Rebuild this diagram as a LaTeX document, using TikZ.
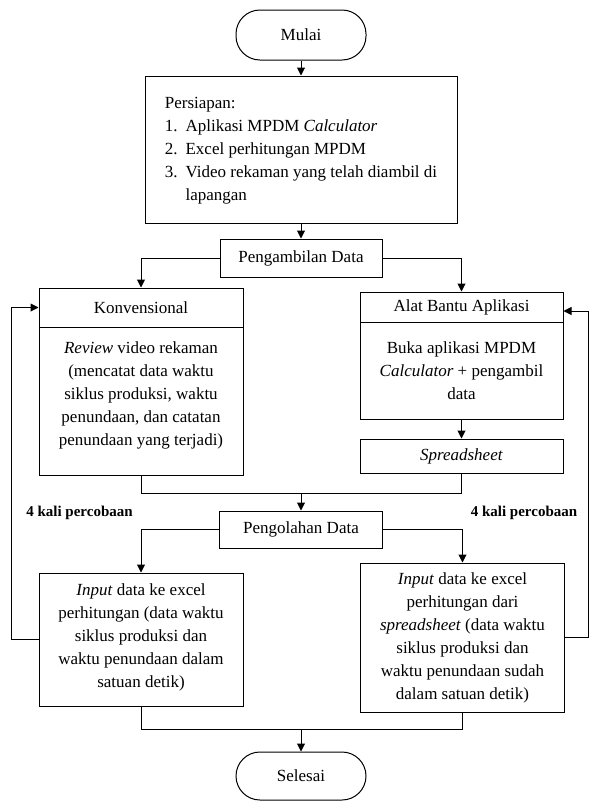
\documentclass[tikz,border=0pt]{standalone}
\usepackage{fontspec}
\setmainfont{Liberation Serif}
\usepackage{tikz}
\usetikzlibrary{arrows.meta,positioning,calc}

\begin{document}
\begin{tikzpicture}[
  x=1pt, y=-1pt,
  every node/.style={font=\fontsize{17}{23}\selectfont},
  termbox/.style={rectangle, draw, rounded corners=24pt, line width=1pt, minimum width=130pt, minimum height=50pt, inner sep=0pt},
  procbox/.style={rectangle, draw, line width=1pt, inner sep=0pt, align=center},
  notelabel/.style={font=\fontsize{15}{18}\selectfont\bfseries, inner sep=0pt},
  flowarrow/.style={-{Triangle[length=8pt,width=8pt]}, line width=1pt},
  joinline/.style={line width=1pt}
]
\useasboundingbox (0,0) rectangle (589,801);

% Top: start and preparation
\node[termbox] (start) at (301, 35) {Mulai};

\node[procbox, minimum width=312pt, minimum height=147pt] (prep) at (301, 149.5) {%
\begin{tabular}{@{}l@{\hspace{8pt}}l@{}}
\multicolumn{2}{@{}l}{Persiapan:}\\
1. & Aplikasi MPDM \textit{Calculator}\\
2. & Excel perhitungan MPDM\\
3. & Video rekaman yang telah diambil di\\
   & lapangan
\end{tabular}};

\node[procbox, minimum width=162pt, minimum height=38pt] (ambil) at (301, 258) {Pengambilan Data};

% Middle: two ways of taking the data
\node[procbox, minimum width=204pt, minimum height=39pt] (konvHead) at (141, 307.5) {Konvensional};
\node[procbox, minimum width=204pt, minimum height=148pt] (konvBody) at (141, 401) {%
\textit{Review} video rekaman\\
(mencatat data waktu\\
siklus produksi, waktu\\
penundaan, dan catatan\\
penundaan yang terjadi)\rule[-15pt]{0pt}{0pt}};

\node[procbox, minimum width=203pt, minimum height=30pt] (alatHead) at (461.5, 307) {Alat Bantu Aplikasi};
\node[procbox, minimum width=203pt, minimum height=97pt] (alatBody) at (461.5, 370.5) {%
Buka aplikasi MPDM\\
\textit{Calculator} + pengambil\\
data};
\node[procbox, minimum width=203pt, minimum height=34pt] (sheet) at (461.5, 456) {\textit{Spreadsheet}};

% Processing
\node[procbox, minimum width=163pt, minimum height=37pt] (olah) at (301, 529.5) {Pengolahan Data};

\node[notelabel] (ulangL) at (79.5, 513) {4 kali percobaan};
\node[notelabel] (ulangR) at (524, 513) {4 kali percobaan};

\node[procbox, minimum width=204pt, minimum height=133pt] (inL) at (141, 639.5) {%
\textit{Input} data ke excel\\
perhitungan (data waktu\\
siklus produksi dan\\
waktu penundaan dalam\\
satuan detik)\rule[-8pt]{0pt}{0pt}};

\node[procbox, minimum width=204pt, minimum height=149pt] (inR) at (462.5, 637.5) {%
\textit{Input} data ke excel\\
perhitungan dari\\
\textit{spreadsheet} (data waktu\\
siklus produksi dan\\
waktu penundaan sudah\\
dalam satuan detik)};

% Bottom: end
\node[termbox, minimum height=48pt] (stop) at (301, 776) {Selesai};

% Join points and loop lines
\coordinate (joinA) at (301, 493);
\coordinate (joinB) at (301, 729);
\coordinate (loopL) at (11, 0);
\coordinate (loopR) at (588, 0);

% Connectors
\draw[flowarrow] (start) -- (prep);
\draw[flowarrow] (prep) -- (ambil);
\draw[flowarrow] (ambil.west) -| (konvHead.north);
\draw[flowarrow] (ambil.east) -| (alatHead.north);
\draw[flowarrow] (alatBody) -- (sheet);
\draw[joinline] (konvBody.south) |- (joinA);
\draw[joinline] (sheet.south) |- (joinA);
\draw[flowarrow] (joinA) -- (olah.north);
\draw[flowarrow] (olah.west) -| (inL.north);
\draw[flowarrow] (olah.east) -| (inR.north);
\draw[joinline] (inL.south) |- (joinB);
\draw[joinline] (inR.south) |- (joinB);
\draw[flowarrow] (joinB) -- (stop.north);
\draw[flowarrow] (inL.west) -- (inL.west -| loopL) |- (konvHead.west);
\draw[flowarrow] (inR.east) -- (inR.east -| loopR) |- ($(alatHead.east)+(0,4)$);

\end{tikzpicture}
\end{document}
